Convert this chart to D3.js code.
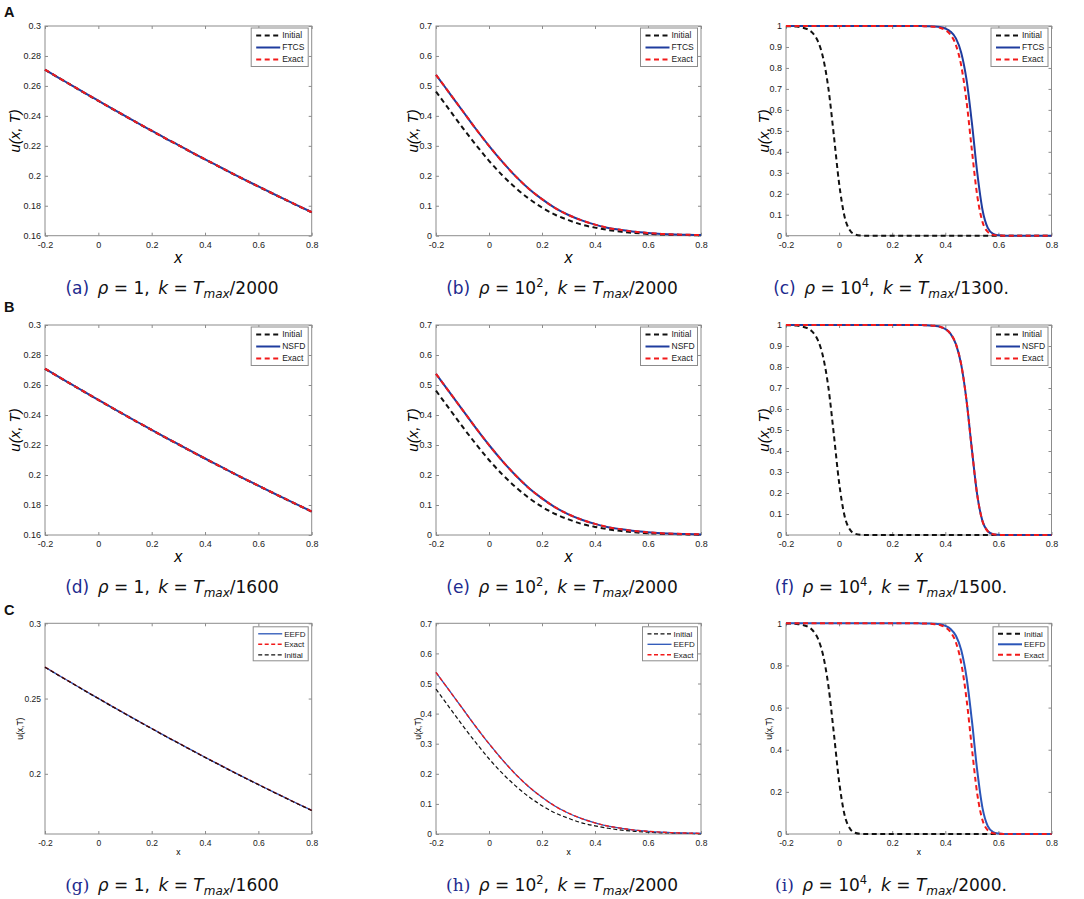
<!DOCTYPE html>
<html><head><meta charset="utf-8">
<script src="https://cdn.jsdelivr.net/npm/d3@7"></script>
<style>body{margin:0;background:#fff} svg{display:block}</style>
</head><body>
<svg id="chart" width="1084" height="899"></svg>
<script>
// ---------------- DATA ----------------
const xGrid = [-0.2,-0.15,-0.1,-0.05,0,0.05,0.1,0.15,0.2,0.25,0.3,0.35,0.4,0.45,0.5,0.55,0.6,0.65,0.7,0.75,0.8];

// rho = 1
const slowInitial = [0.2708,0.2655,0.2603,0.2551,0.2500,0.2449,0.2399,0.2349,0.2300,0.2251,0.2204,0.2156,0.2109,0.2063,0.2017,0.1972,0.1928,0.1884,0.1841,0.1798,0.1756];
const slowExact   = [0.2709,0.2656,0.2604,0.2552,0.2501,0.2450,0.2400,0.2350,0.2301,0.2252,0.2205,0.2157,0.2110,0.2064,0.2018,0.1973,0.1929,0.1885,0.1842,0.1799,0.1757];
const slowNumeric = [0.2709,0.2656,0.2604,0.2552,0.2501,0.2450,0.2400,0.2350,0.2301,0.2252,0.2205,0.2157,0.2110,0.2064,0.2018,0.1973,0.1929,0.1885,0.1842,0.1799,0.1757];

// rho = 10^2
const midInitial = [0.481,0.421,0.361,0.304,0.250,0.202,0.160,0.124,0.094,0.070,0.052,0.037,0.027,0.019,0.013,0.009,0.006,0.004,0.003,0.002,0.001];
const midExact   = [0.537,0.477,0.417,0.357,0.300,0.247,0.199,0.157,0.122,0.092,0.069,0.051,0.037,0.026,0.019,0.013,0.009,0.006,0.004,0.003,0.002];
const midNumeric = [0.537,0.477,0.417,0.357,0.300,0.247,0.199,0.157,0.122,0.092,0.069,0.051,0.037,0.026,0.019,0.013,0.009,0.006,0.004,0.003,0.002];

// rho = 10^4
const steepGrid = [-0.2,-0.18,-0.16,-0.14,-0.12,-0.1,-0.08,-0.06,-0.04,-0.02,0,
  0.02,0.04,0.06,0.08,0.1,0.12,0.14,0.16,0.18,0.2,0.22,0.24,0.26,0.28,0.3,
  0.32,0.34,0.36,0.38,0.4,0.42,0.44,0.46,0.48,0.5,0.52,0.54,0.56,0.58,0.6,
  0.62,0.64,0.66,0.68,0.7,0.72,0.74,0.76,0.78,0.8];
const steepInitial = [0.999,0.999,0.997,0.993,0.985,0.967,0.928,0.847,0.700,0.481,0.250,
  0.094,0.027,0.006,0.001,0,0,0,0,0,0,0,0,0,0,0,
  0,0,0,0,0,0,0,0,0,0,0,0,0,0,0,
  0,0,0,0,0,0,0,0,0,0];
const steepExact = [1,1,1,1,1,1,1,1,1,1,1,
  1,1,1,1,1,1,1,1,1,1,1,1,1,1,1,
  0.999,0.998,0.996,0.992,0.981,0.958,0.909,0.811,0.640,0.409,0.193,0.066,0.018,0.004,0.001,
  0,0,0,0,0,0,0,0,0,0];
const steepFTCS = [1,1,1,1,1,1,1,1,1,1,1,
  1,1,1,1,1,1,1,1,1,1,1,1,1,1,1,
  0.999,0.999,0.998,0.995,0.988,0.973,0.941,0.873,0.744,0.540,0.304,0.124,0.037,0.009,0.002,
  0,0,0,0,0,0,0,0,0,0];
const steepNSFD = [1,1,1,1,1,1,1,1,1,1,1,
  1,1,1,1,1,1,1,1,1,1,1,1,1,1,1,
  0.999,0.998,0.996,0.992,0.981,0.958,0.909,0.811,0.640,0.409,0.193,0.066,0.018,0.004,0.001,
  0,0,0,0,0,0,0,0,0,0];
const steepEEFD = [1,1,1,1,1,1,1,1,1,1,1,
  1,1,1,1,1,1,1,1,1,1,1,1,1,1,1,
  0.999,0.999,0.998,0.995,0.988,0.973,0.941,0.873,0.744,0.540,0.304,0.124,0.037,0.009,0.002,
  0,0,0,0,0,0,0,0,0,0];

// ticks
const xTicks = [-0.2,0,0.2,0.4,0.6,0.8];
const yTicksSlow = [0.16,0.18,0.2,0.22,0.24,0.26,0.28,0.3];
const yTicksSlowC = [0.2,0.25,0.3];
const yTicksMid = [0,0.1,0.2,0.3,0.4,0.5,0.6,0.7];
const yTicksSteep = [0,0.1,0.2,0.3,0.4,0.5,0.6,0.7,0.8,0.9,1];
const yTicksSteepC = [0,0.2,0.4,0.6,0.8,1];

// labels
const rowLabels = ["A","B","C"];
const schemeNames = ["FTCS","NSFD","EEFD"];
const captionLetters = ["a","b","c","d","e","f","g","h","i"];
const rhoBase = ["1","10","10","1","10","10","1","10","10"];
const rhoExp  = ["","2","4","","2","4","","2","4"];
const kDenominators = ["2000","2000","1300","1600","2000","1500","1600","2000","2000"];
const captionTail = ["","",".","","",".","","","."];

// ---------------- LAYOUT ----------------
const colLeft = [45, 436, 786], colRight = [311.7, 701, 1051.5];
const rowTop = [26, 325, 623.3], rowBottom = [235.7, 535, 834];
const yLabelX = [15, 413, 764];
const captionCX = [172, 562, 891];
const captionBase = [294, 593, 891];
const rowLabelBase = [17, 312, 615];

const svg = d3.select("#chart");
const C = {black:"#111", red:"#f21a1a", blue:"#1f3c9e", blueC:"#2a55b8", frame:"#8c8c8c"};
const fmt = d => String(+d.toFixed(2));

const datasets = [
  {x:xGrid, init:slowInitial, exact:slowExact, num:[slowNumeric,slowNumeric,slowNumeric], yd:[0.16,0.3], yt:[yTicksSlow,yTicksSlow,yTicksSlowC]},
  {x:xGrid, init:midInitial, exact:midExact, num:[midNumeric,midNumeric,midNumeric], yd:[0,0.7], yt:[yTicksMid,yTicksMid,yTicksMid]},
  {x:steepGrid, init:steepInitial, exact:steepExact, num:[steepFTCS,steepNSFD,steepEEFD], yd:[0,1], yt:[yTicksSteep,yTicksSteep,yTicksSteepC]}
];

function drawPanel(row, col) {
  const idx = row*3 + col;
  const ds = datasets[col];
  const left = colLeft[col], right = colRight[col], top = rowTop[row], bottom = rowBottom[row];
  const rowC = row === 2;
  const thick = !rowC || col === 2;
  const g = svg.append("g");
  const x = d3.scaleLinear().domain([-0.2,0.8]).range([left,right]);
  const y = d3.scaleLinear().domain(ds.yd).range([bottom,top]);
  const yt = ds.yt[row];
  const tickFont = rowC ? 8.5 : 9;

  g.append("rect").attr("x",left).attr("y",top).attr("width",right-left).attr("height",bottom-top)
    .attr("fill","#fff").attr("stroke",C.frame).attr("stroke-width",1);

  const axes = [
    {a:d3.axisBottom(x).tickValues(xTicks).tickFormat(fmt), t:`translate(0,${bottom})`, p:6},
    {a:d3.axisTop(x).tickValues(xTicks).tickFormat(""), t:`translate(0,${top})`, p:4},
    {a:d3.axisLeft(y).tickValues(yt).tickFormat(fmt), t:`translate(${left},0)`, p:4},
    {a:d3.axisRight(y).tickValues(yt).tickFormat(""), t:`translate(${right},0)`, p:4}
  ];
  axes.forEach(o => {
    const ag = g.append("g").attr("transform",o.t)
      .call(o.a.tickSizeInner(-3).tickSizeOuter(0).tickPadding(o.p));
    ag.select(".domain").remove();
    ag.selectAll(".tick line").attr("stroke",C.frame);
    ag.selectAll(".tick text").attr("fill","#1a1a1a")
      .style("font-family","'Liberation Sans', Arial, sans-serif").style("font-size",tickFont+"px");
  });

  const line = (xs) => d3.line().x((d,i)=>x(xs[i])).y(d=>y(d)).curve(d3.curveMonotoneX);
  const w = thick ? 2 : 1.2;
  const styles = {
    init:{stroke:C.black, width:w, dash: thick ? "5,3.5" : "4,2.5"},
    num:{stroke: rowC ? C.blueC : C.blue, width: thick ? 2 : 1.3, dash:null},
    exact:{stroke:C.red, width: thick ? 2 : 1.4, dash: thick ? "5,3.5" : "4,2.5"}
  };
  const name = {init:"Initial", num:schemeNames[row], exact:"Exact"};
  const order = (rowC && col === 0) ? ["num","exact","init"] : ["init","num","exact"];
  const values = {init:ds.init, num:ds.num[row], exact:ds.exact};

  order.forEach(k => {
    const s = styles[k];
    g.append("path").datum(values[k]).attr("d", line(ds.x)).attr("fill","none")
      .attr("stroke",s.stroke).attr("stroke-width",s.width)
      .attr("stroke-dasharray",s.dash).attr("stroke-linejoin","round");
  });

  // legend
  const lw = rowC ? 55 : 57, lh = rowC ? 34 : 38.5, sp = rowC ? 10.5 : 12;
  const lx = right - 3.5 - lw, ly = top + (rowC ? 3.5 : 2);
  const lg = g.append("g");
  lg.append("rect").attr("x",lx).attr("y",ly).attr("width",lw).attr("height",lh)
    .attr("fill","#fff").attr("stroke",C.frame).attr("stroke-width",1);
  order.forEach((k,i) => {
    const s = styles[k];
    const yy = ly + (rowC ? 7 : 7.5) + i*sp;
    lg.append("line").attr("x1",lx+5).attr("x2",lx+29).attr("y1",yy).attr("y2",yy)
      .attr("stroke",s.stroke).attr("stroke-width",s.width).attr("stroke-dasharray",s.dash);
    lg.append("text").attr("x",lx+31).attr("y",yy).attr("dy","0.35em")
      .style("font-family","'Liberation Sans', Arial, sans-serif").style("font-size", rowC ? "8px" : "8.5px")
      .attr("fill","#1a1a1a").text(name[k]);
  });

  // axis labels
  if (!rowC) {
    g.append("text").attr("x",(left+right)/2).attr("y",bottom+27).attr("text-anchor","middle")
      .style("font-family","'Liberation Sans', Arial, sans-serif").style("font-size","16px").style("font-style","italic").text("x");
    g.append("text").attr("transform",`translate(${yLabelX[col]},${(top+bottom)/2}) rotate(-90)`)
      .attr("text-anchor","middle").attr("dy","0.35em")
      .style("font-family","'Liberation Sans', Arial, sans-serif").style("font-size","15px").style("font-style","italic").text("u(x, T)");
  } else {
    g.append("text").attr("x",(left+right)/2).attr("y",bottom+21).attr("text-anchor","middle")
      .style("font-family","'Liberation Sans', Arial, sans-serif").style("font-size","8.5px").text("x");
    g.append("text").attr("transform",`translate(${yLabelX[col]+5},${(top+bottom)/2}) rotate(-90)`)
      .attr("text-anchor","middle").attr("dy","0.35em")
      .style("font-family","'Liberation Sans', Arial, sans-serif").style("font-size","8.5px").text("u(x,T)");
  }

  // caption
  const capFont = "'DejaVu Sans', sans-serif";
  const t = svg.append("text").attr("x",captionCX[col]).attr("y",captionBase[row]).attr("text-anchor","middle")
    .style("font-family",capFont).style("font-size","17px").attr("fill","#111");
  t.append("tspan").attr("fill","#1d2a8e")
    .style("font-family", rowC ? "'DejaVu Serif', serif" : capFont).text(`(${captionLetters[idx]})`);
  t.append("tspan").text("\u2002");
  t.append("tspan").style("font-style","italic").text("ρ");
  t.append("tspan").text(" = " + rhoBase[idx]);
  if (rhoExp[idx]) {
    t.append("tspan").attr("dy",-7).style("font-size","11.5px").text(rhoExp[idx]);
    t.append("tspan").attr("dy",7).text(",");
  } else {
    t.append("tspan").text(",");
  }
  t.append("tspan").text("\u2002");
  t.append("tspan").style("font-style","italic").text("k");
  t.append("tspan").text(" = ");
  t.append("tspan").style("font-style","italic").text("T");
  t.append("tspan").attr("dy",3.5).style("font-style","italic").style("font-size","12px").text("max");
  t.append("tspan").attr("dy",-3.5).text("/" + kDenominators[idx] + captionTail[idx]);
}

for (let r = 0; r < 3; r++) {
  svg.append("text").attr("x",4).attr("y",rowLabelBase[r])
    .style("font-family","'Liberation Sans', Arial, sans-serif").style("font-size","14.5px").style("font-weight","bold")
    .attr("fill","#111").text(rowLabels[r]);
  for (let c = 0; c < 3; c++) drawPanel(r, c);
}
</script>
</body></html>
